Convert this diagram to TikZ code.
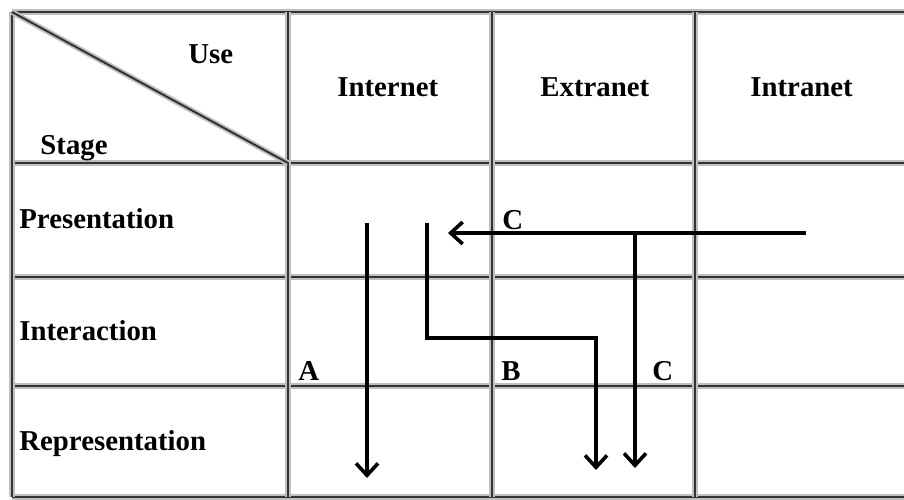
\documentclass[tikz,border=0pt]{standalone}
\usepackage{fontspec}
\setmainfont{Liberation Serif}
\usetikzlibrary{arrows.meta}

\begin{document}
\begin{tikzpicture}[
x=0.5pt, y=-0.5pt,
grid/.style={draw=black!80, line width=1pt, preaction={draw=black!25, line width=2.8pt}},
lbl/.style={font=\fontsize{14.4}{16}\selectfont\bfseries, inner sep=0pt, anchor=base west},
arr/.style={-{Straight Barb[length=6pt, width=11pt, line width=1.8pt]}, line width=1.9pt}
]
\useasboundingbox (0,0) rectangle (904,499);
% table grid
\foreach \y in {12,163,277,386,497} \draw[grid] (12,\y) -- (904,\y);
\foreach \x in {12,288,492,695} \draw[grid] (\x,12) -- (\x,497);
\draw[grid] (12,12) -- (288,163);
% header
\node[lbl] (use) at (188,63) {Use};
\node[lbl] (stage) at (40,154) {Stage};
\node[lbl] (internet) at (337,96) {Internet};
\node[lbl] (extranet) at (540,96) {Extranet};
\node[lbl] (intranet) at (750,96) {Intranet};
% stages
\node[lbl] (pres) at (19,228) {Presentation};
\node[lbl] (inter) at (19,340) {Interaction};
\node[lbl] (repr) at (19,450) {Representation};
% path labels
\node[lbl] (la) at (298,380) {A};
\node[lbl] (lb) at (501,380) {B};
\node[lbl] (lc) at (652,380) {C};
\node[lbl] (lctop) at (502,229) {C};
% path end points
\coordinate (a0) at (367,223);
\coordinate (a1) at (367,478);
\coordinate (b0) at (427,223);
\coordinate (b1) at (427,338);
\coordinate (b2) at (596,338);
\coordinate (b3) at (596,470);
\coordinate (c0) at (806,233);
\coordinate (c1) at (448,233);
\coordinate (cj) at (635,233);
\coordinate (c2) at (635,468);
% paths
\draw[arr] (a0) -- (a1);
\draw[arr] (b0) -- (b1) -- (b2) -- (b3);
\draw[arr] (c0) -- (c1);
\draw[arr] (cj) -- (c2);
\end{tikzpicture}
\end{document}
